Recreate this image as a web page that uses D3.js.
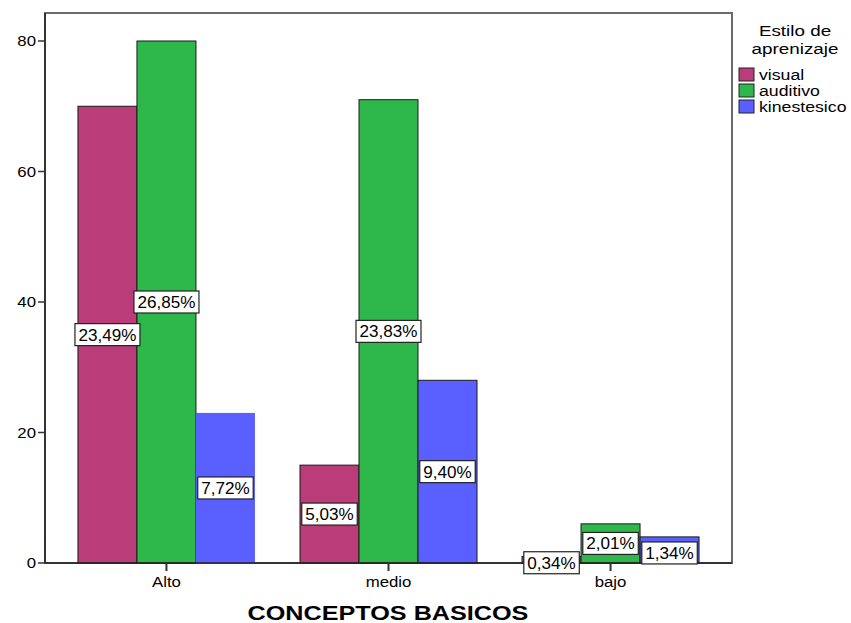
<!DOCTYPE html>
<html>
<head>
<meta charset="utf-8">
<script src="https://cdn.jsdelivr.net/npm/d3@7"></script>
<style>
  body { margin: 0; background: #fff; }
  svg text { font-family: "Liberation Sans", Arial, sans-serif; fill: #000; }
</style>
</head>
<body>
<svg id="chart" width="851" height="623"></svg>
<script>
var categories = ["Alto", "medio", "bajo"];
var seriesNames = ["visual", "auditivo", "kinestesico"];
var seriesColors = ["#ba3d79", "#2eb84b", "#5a5fff"];
// recuento por estilo (visual, auditivo, kinestesico) en cada categoria
var visual = [70, 15, 1];
var auditivo = [80, 71, 6];
var kinestesico = [23, 28, 4];
var pctLabels = [
  ["23,49%", "5,03%", "0,34%"],
  ["26,85%", "23,83%", "2,01%"],
  ["7,72%", "9,40%", "1,34%"]
];
var yTicks = [0, 20, 40, 60, 80];
var xTitle = "CONCEPTOS BASICOS";
var legendTitle = ["Estilo de", "aprenizaje"];

var values = [visual, auditivo, kinestesico];
var data = [];
categories.forEach(function(c, ci) {
  seriesNames.forEach(function(s, si) {
    data.push({ cat: c, serie: s, si: si, value: values[si][ci], label: pctLabels[si][ci] });
  });
});

var svg = d3.select("#chart");
var plot = { left: 45, right: 732, top: 13, bottom: 563 };

var y = d3.scaleLinear().domain([0, 80]).range([563, 41]);
var x0 = d3.scalePoint().domain(categories).range([plot.left, plot.right]).padding(0.547);
var x1 = d3.scaleBand().domain(seriesNames).range([-88.5, 88.5]);
var color = d3.scaleOrdinal().domain(seriesNames).range(seriesColors);

// stretched text helper (source chart has wide glyphs)
function stext(g, x, yy, str, size, sx, anchor, weight) {
  return g.append("text")
    .attr("transform", "translate(" + x + "," + yy + ") scale(" + sx + ",1)")
    .attr("text-anchor", anchor || "start")
    .style("font-size", size + "px")
    .style("font-weight", weight || "normal")
    .text(str);
}

// frame
svg.append("rect")
  .attr("x", plot.left).attr("y", plot.top)
  .attr("width", plot.right - plot.left).attr("height", plot.bottom - plot.top)
  .attr("fill", "none").attr("stroke", "#6b6b6b").attr("stroke-width", 2);

// bars
svg.append("g").selectAll("rect")
  .data(data)
  .enter().append("rect")
  .attr("x", function(d) { return x0(d.cat) + x1(d.serie); })
  .attr("y", function(d) { return y(d.value); })
  .attr("width", x1.bandwidth())
  .attr("height", function(d) { return y(0) - y(d.value); })
  .attr("fill", function(d) { return color(d.serie); })
  .attr("stroke", function(d) { return d.cat == "Alto" && d.si == 2 ? "none" : "#1a1a1a"; })
  .attr("stroke-width", 1);

// axes lines
svg.append("line")
  .attr("x1", plot.left).attr("x2", plot.left)
  .attr("y1", plot.top).attr("y2", y(0))
  .attr("stroke", "#333").attr("stroke-width", 2);
svg.append("line")
  .attr("x1", plot.left).attr("x2", plot.right)
  .attr("y1", y(0)).attr("y2", y(0))
  .attr("stroke", "#222").attr("stroke-width", 1.5);

// y ticks
var yg = svg.append("g");
yTicks.forEach(function(t) {
  yg.append("line")
    .attr("x1", plot.left - 7).attr("x2", plot.left)
    .attr("y1", y(t)).attr("y2", y(t))
    .attr("stroke", "#333").attr("stroke-width", 1.5);
  stext(yg, plot.left - 9, y(t) + 5, String(t), 15, 1.12, "end");
});

// x ticks
var xg = svg.append("g");
categories.forEach(function(c) {
  xg.append("line")
    .attr("x1", x0(c)).attr("x2", x0(c))
    .attr("y1", y(0)).attr("y2", y(0) + 8)
    .attr("stroke", "#333").attr("stroke-width", 2);
  stext(xg, x0(c), y(0) + 24, c, 15, 1.12, "middle");
});

// value labels
var lg = svg.append("g");
data.forEach(function(d) {
  var cx = x0(d.cat) + x1(d.serie) + x1.bandwidth() / 2;
  var cy = (y(d.value) + y(0)) / 2;
  if (d.value < 5) cy += 3;
  var t = stext(lg, cx, cy + 6, d.label, 16, 1.07, "middle");
  var w = t.node().getComputedTextLength() * 1.07 + 7;
  lg.insert("rect", function() { return t.node(); })
    .attr("x", cx - w / 2).attr("y", cy - 11)
    .attr("width", w).attr("height", 22)
    .attr("fill", "#fff").attr("stroke", "#222").attr("stroke-width", 1.2);
});

// x title
stext(svg, (plot.left + plot.right) / 2 + -0.5, 620, xTitle, 20, 1.26, "middle", "bold");

// legend
var leg = svg.append("g");
stext(leg, 795, 36, legendTitle[0], 14.5, 1.3, "middle");
stext(leg, 795, 53.5, legendTitle[1], 14.5, 1.3, "middle");
seriesNames.forEach(function(s, i) {
  var ly = 68 + i * 16;
  leg.append("rect")
    .attr("x", 739).attr("y", ly)
    .attr("width", 15).attr("height", 13)
    .attr("fill", color(s)).attr("stroke", "#222").attr("stroke-width", 1);
  stext(leg, 759, ly + 11.5, s, 15, 1.18, "start");
});
</script>
</body>
</html>
